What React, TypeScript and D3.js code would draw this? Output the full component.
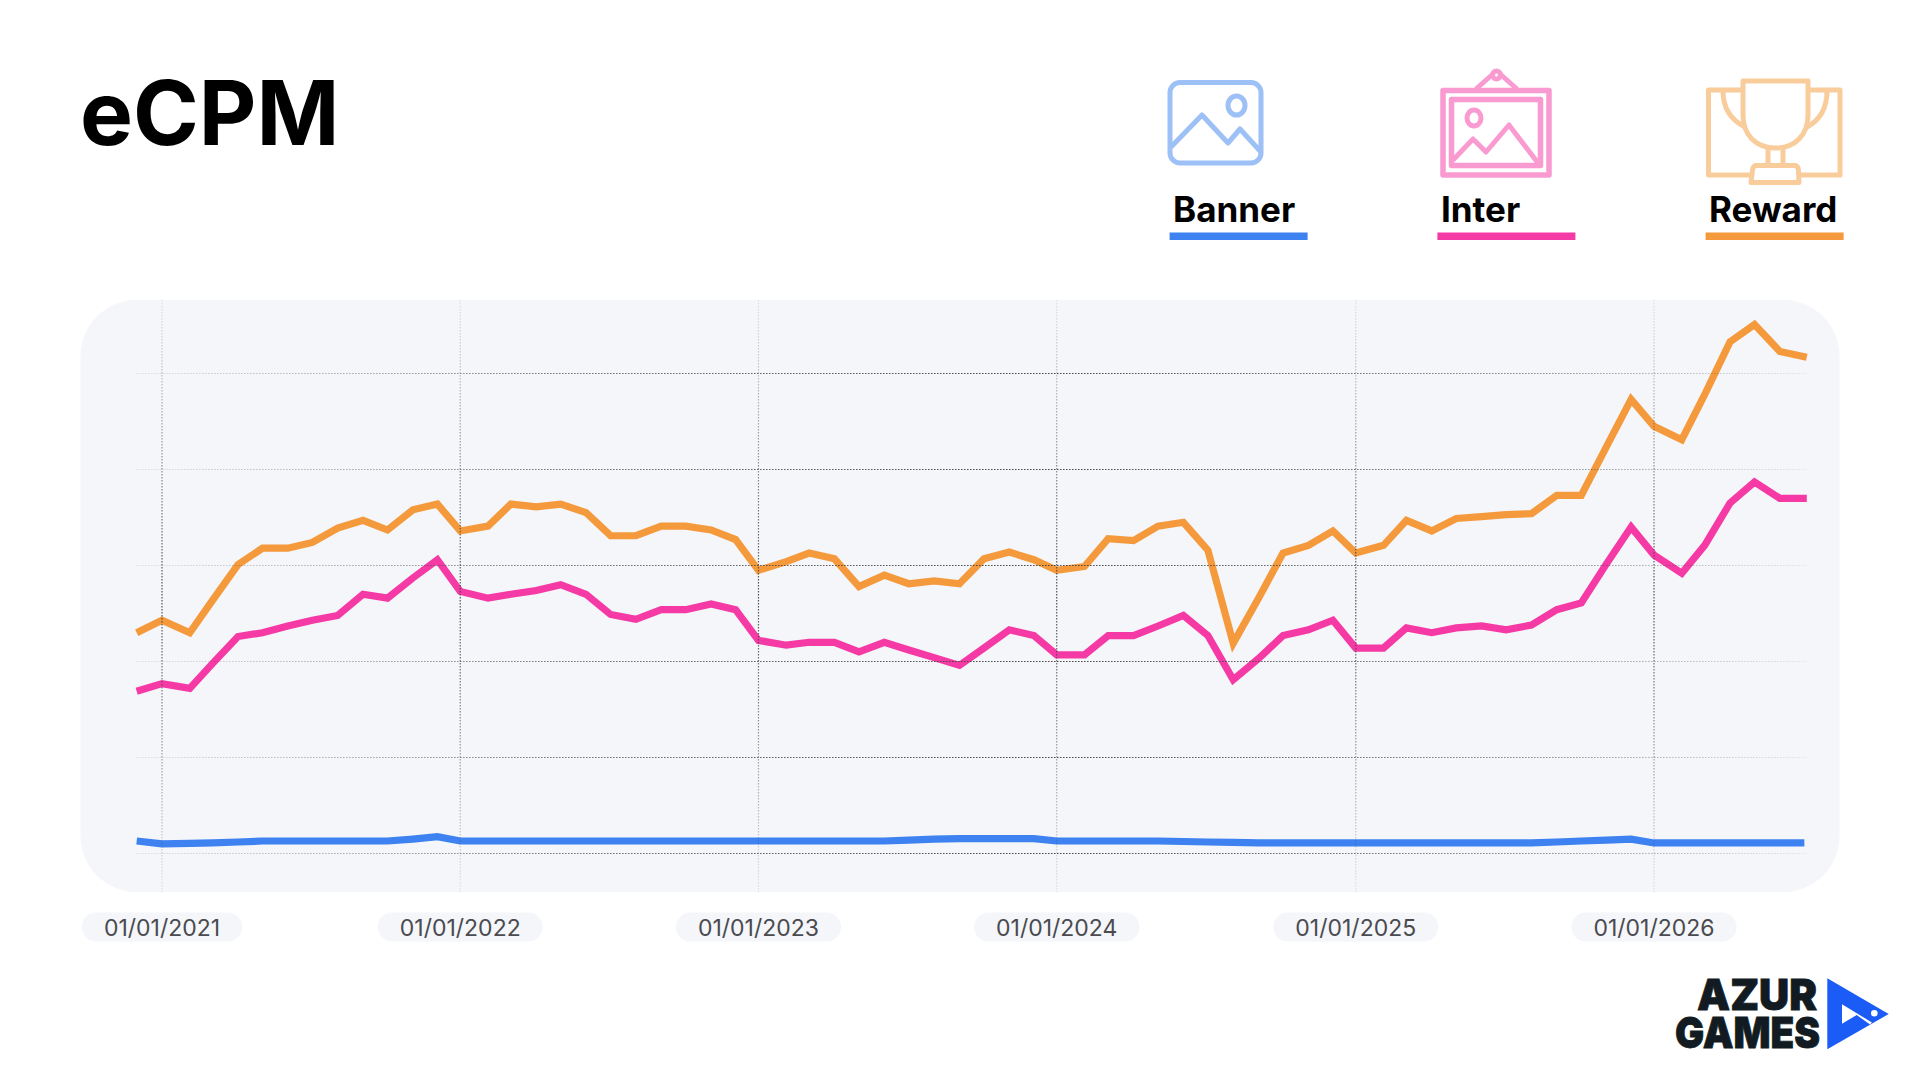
import * as d3 from 'd3';

// monthly samples; in the source they sit a few days into the month, except on January
const months = d3.timeMonth
	.range(new Date(2020, 11, 1), new Date(2026, 7, 1))
	.map((d, i) =>
		i === 0 || d.getMonth() === 0
			? d
			: new Date(d.getFullYear(), d.getMonth(), 4)
	);
const lastDate = new Date(2026, 6, 7);
const bannerLastDate = new Date(2026, 6, 4);
const yearTicks = d3.timeYear.range(new Date(2021, 0, 1), new Date(2027, 0, 1));
const gridValues = [0, 1, 2, 3, 4, 5];

const bannerValues = [
	0.13, 0.1, 0.105, 0.11, 0.12, 0.13, 0.13, 0.13, 0.13, 0.13, 0.13, 0.15,
	0.175, 0.13, 0.13, 0.13, 0.13, 0.13, 0.13, 0.13, 0.13, 0.13, 0.13, 0.13,
	0.13, 0.13, 0.13, 0.13, 0.13, 0.13, 0.13, 0.14, 0.15, 0.155, 0.155, 0.155,
	0.155, 0.13, 0.13, 0.13, 0.13, 0.13, 0.125, 0.12, 0.115, 0.11, 0.11, 0.11,
	0.11, 0.11, 0.11, 0.11, 0.11, 0.11, 0.11, 0.11, 0.11, 0.12, 0.13, 0.14,
	0.15, 0.11, 0.11, 0.11, 0.11, 0.11, 0.11, 0.11,
];
const interValues = [
	1.69, 1.77, 1.72, 1.98, 2.26, 2.3, 2.37, 2.43, 2.48, 2.7, 2.66, 2.87,
	3.06, 2.73, 2.66, 2.7, 2.74, 2.8, 2.7, 2.49, 2.44, 2.54, 2.54, 2.6,
	2.54, 2.22, 2.17, 2.2, 2.2, 2.1, 2.2, 2.12, 2.04, 1.96, 2.14, 2.33,
	2.27, 2.07, 2.07, 2.27, 2.27, 2.37, 2.48, 2.27, 1.81, 2.03, 2.27, 2.33,
	2.43, 2.14, 2.14, 2.35, 2.3, 2.35, 2.37, 2.33, 2.38, 2.54, 2.61, 3.02,
	3.4, 3.11, 2.92, 3.21, 3.65, 3.87, 3.7, 3.7,
];
const rewardValues = [
	2.3, 2.43, 2.3, 2.64, 3.01, 3.18, 3.18, 3.24, 3.39, 3.47, 3.37, 3.58,
	3.64, 3.36, 3.41, 3.64, 3.61, 3.64, 3.55, 3.31, 3.31, 3.41, 3.41, 3.37,
	3.27, 2.95, 3.04, 3.13, 3.07, 2.78, 2.9, 2.81, 2.84, 2.81, 3.07, 3.14,
	3.06, 2.95, 2.99, 3.28, 3.26, 3.41, 3.45, 3.16, 2.19, 2.66, 3.13, 3.21,
	3.36, 3.13, 3.21, 3.47, 3.36, 3.49, 3.51, 3.53, 3.54, 3.73, 3.73, 4.24,
	4.73, 4.45, 4.31, 4.78, 5.33, 5.51, 5.23, 5.17,
];

const colors = { banner: '#3d82f0', inter: '#f53aa5', reward: '#f59a3c' };
const panelFill = '#f4f6fa';
const textFont = 'Inter, sans-serif';

const xScale = d3
	.scaleTime()
	.domain([new Date(2021, 0, 1), new Date(2026, 0, 1)])
	.range([162, 1654]);
const yScale = d3.scaleLinear().domain([0, 5]).range([853.5, 373.5]);
const lineGenerator = d3
	.line<{ x: Date; y: number }>()
	.x((d) => xScale(d.x))
	.y((d) => yScale(d.y));
const formatDate = d3.timeFormat('%d/%m/%Y');

const toPoints = (values: number[], end: Date) =>
	values.map((y, i) => ({ x: i === values.length - 1 ? end : months[i], y }));

const measure = (text: string, font: string) => {
	const ctx = document.createElement('canvas').getContext('2d')!;
	ctx.font = font;
	return ctx.measureText(text).width;
};

function BannerIcon() {
	return (
		<g fill="none" stroke={colors.banner} strokeWidth={5} opacity={0.5} strokeLinejoin="round">
			<rect x={1170} y={82.5} width={91} height={80.5} rx={10} />
			<ellipse cx={1236.5} cy={105.5} rx={8.5} ry={9.5} />
			<path d="M1171 147 L1202 115 L1228 143 L1240 129 L1261 152" />
		</g>
	);
}

function InterIcon() {
	return (
		<g fill="none" stroke={colors.inter} strokeWidth={5} opacity={0.5} strokeLinejoin="round">
			<rect x={1443} y={90.5} width={106} height={84.5} strokeWidth={5.5} />
			<rect x={1451.5} y={99.5} width={89} height={66} strokeWidth={5.5} />
			<path d="M1476 89 L1493 74 M1517 89 L1500 74" />
			<circle cx={1496.5} cy={75} r={4} />
			<ellipse cx={1474} cy={118} rx={7} ry={8} />
			<path d="M1453 160 L1473 139 L1486 152 L1509 125 L1538 163" />
		</g>
	);
}

function RewardIcon() {
	return (
		<g fill="none" stroke={colors.reward} strokeWidth={5} opacity={0.5} strokeLinejoin="round">
			<path d="M1743 90 H1708.5 V175 H1751 M1808 90 H1840 V175 H1799" />
			<path d="M1743 81 H1808 V115 C1808 135 1795 148 1775.5 148 C1756 148 1743 135 1743 115 Z" />
			<path d="M1723 91 C1723 108 1731 120 1745 127 M1827 91 C1827 108 1820 120 1807 127" />
			<path d="M1768 148 V165 M1783 148 V165" />
			<path d="M1756 165.5 H1795 Q1798 166 1798.5 170 L1799 182.5 H1751 L1752.5 170 Q1753 166 1756 165.5 Z" />
		</g>
	);
}

function Logo() {
	return (
		<g>
			<text
				x={1697}
				y={1010}
				fontFamily={textFont}
				fontWeight={900}
				fontSize={43}
				fill="#121b22"
				stroke="#121b22"
				strokeWidth={0.8}
				textLength={120}
				lengthAdjust="spacingAndGlyphs"
			>
				AZUR
			</text>
			<text
				x={1675}
				y={1047.5}
				fontFamily={textFont}
				fontWeight={900}
				fontSize={43}
				fill="#121b22"
				stroke="#121b22"
				strokeWidth={0.8}
				textLength={145}
				lengthAdjust="spacingAndGlyphs"
			>
				GAMES
			</text>
			<path d="M1827.3 978.3 L1888.7 1014 L1827.3 1049.3 Z" fill="#1a5cf5" />
			<path d="M1842 1004.3 L1872 1022.5 L1870 1024.5 L1856.7 1015 L1842 1023.7 Z" fill="#fff" />
			<circle cx={1874.3} cy={1013.3} r={3.3} fill="#fff" />
		</g>
	);
}

export default function App() {
	const legend = [
		{ label: 'Banner', color: colors.banner, x: 1169.6, textX: 1173 },
		{ label: 'Inter', color: colors.inter, x: 1437.4, textX: 1441 },
		{ label: 'Reward', color: colors.reward, x: 1705.6, textX: 1709 },
	];

	return (
		<svg
			width={1920}
			height={1080}
			viewBox="0 0 1920 1080"
			style={{ position: 'absolute', left: 0, top: 0, background: '#fff' }}
		>
			<defs>
				<linearGradient id="hGrid" gradientUnits="userSpaceOnUse" x1={136} x2={1806} y1={0} y2={0}>
					<stop offset="0" stopColor="#444" stopOpacity={0.12} />
					<stop offset="0.25" stopColor="#444" stopOpacity={0.7} />
					<stop offset="0.55" stopColor="#444" stopOpacity={0.95} />
					<stop offset="0.85" stopColor="#444" stopOpacity={0.55} />
					<stop offset="1" stopColor="#444" stopOpacity={0.1} />
				</linearGradient>
				<linearGradient id="vGrid" gradientUnits="userSpaceOnUse" x1={0} x2={0} y1={300} y2={892}>
					<stop offset="0" stopColor="#444" stopOpacity={0.12} />
					<stop offset="0.5" stopColor="#444" stopOpacity={0.95} />
					<stop offset="1" stopColor="#444" stopOpacity={0.12} />
				</linearGradient>
			</defs>

			<text x={80} y={145} fontFamily={textFont} fontWeight={700} fontSize={89} fill="#000">
				eCPM
			</text>

			{/* legend */}
			<BannerIcon />
			<InterIcon />
			<RewardIcon />
			{legend.map((d) => (
				<g key={d.label}>
					<text x={d.textX} y={222} fontFamily={textFont} fontWeight={700} fontSize={35} fill="#000">
						{d.label}
					</text>
					<rect x={d.x} y={232.5} width={138} height={7.5} fill={d.color} />
				</g>
			))}

			<rect x={80.5} y={300} width={1759} height={592} rx={56} fill={panelFill} />

			{/* series */}
			{[
				{ key: 'banner', values: bannerValues, end: bannerLastDate },
				{ key: 'inter', values: interValues, end: lastDate },
				{ key: 'reward', values: rewardValues, end: lastDate },
			].map((s) => (
				<path
					key={s.key}
					d={lineGenerator(toPoints(s.values, s.end))!}
					fill="none"
					stroke={colors[s.key as keyof typeof colors]}
					strokeWidth={7.2}
					strokeLinejoin="miter"
				/>
			))}

			{/* grid sits over the lines */}
			{gridValues.map((d) => (
				<line
					key={d}
					x1={136}
					x2={1806}
					y1={yScale(d)}
					y2={yScale(d) + 0.01}
					stroke="url(#hGrid)"
					strokeWidth={1.2}
					strokeDasharray="1.6 1.4"
				/>
			))}
			{yearTicks.map((d) => (
				<line
					key={d.getTime()}
					x1={xScale(d)}
					x2={xScale(d) + 0.01}
					y1={300}
					y2={892}
					stroke="url(#vGrid)"
					strokeWidth={1.2}
					strokeDasharray="1.6 1.4"
				/>
			))}

			{/* date pills */}
			{yearTicks.map((d) => {
				const label = formatDate(d);
				const w = measure(label, `400 23px ${textFont}`) + 44;
				return (
					<g key={label} transform={`translate(${xScale(d)}, 927)`}>
						<rect x={-w / 2} y={-14.5} width={w} height={29} rx={14.5} fill={panelFill} />
						<text
							textAnchor="middle"
							y={8.5}
							fontFamily={textFont}
							fontSize={23}
							fill="#4a4a4f"
						>
							{label}
						</text>
					</g>
				);
			})}

			<Logo />
		</svg>
	);
}
